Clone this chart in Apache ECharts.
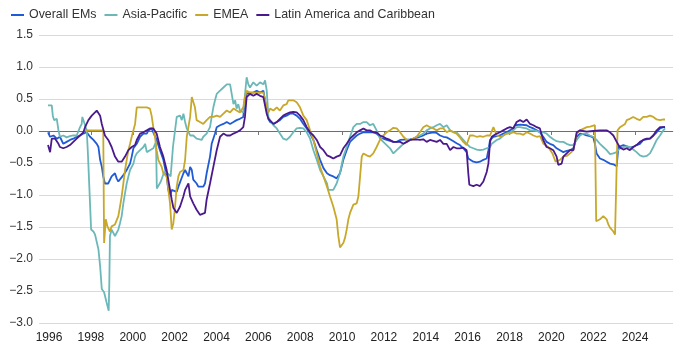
<!DOCTYPE html>
<html>
<head>
<meta charset="utf-8">
<script src="https://cdn.jsdelivr.net/npm/echarts@6/dist/echarts.min.js"></script>
<style>
html,body{margin:0;padding:0;background:#fff;}
#chart{width:700px;height:360px;}
</style>
</head>
<body>
<div id="chart"></div>
<script>
var seriesNames = ['Overall EMs', 'Asia-Pacific', 'EMEA', 'Latin America and Caribbean'];
var xTickYears = [1996,1998,2000,2002,2004,2006,2008,2010,2012,2014,2016,2018,2020,2022,2024];
var yTickValues = [-3,-2.5,-2,-1.5,-1,-0.5,0,0.5,1,1.5];

var overallDates = [1995.95,1996.05,1996.21,1996.37,1996.52,1996.68,1996.84,1997.00,1997.16,1997.32,1997.48,1997.64,1997.80,1997.96,1998.12,1998.28,1998.36,1998.44,1998.52,1998.59,1998.67,1998.75,1998.83,1998.99,1999.15,1999.23,1999.31,1999.39,1999.55,1999.71,1999.87,1999.95,2000.03,2000.19,2000.35,2000.51,2000.67,2000.75,2000.90,2000.98,2001.14,2001.30,2001.46,2001.62,2001.70,2001.78,2001.86,2002.10,2002.18,2002.42,2002.50,2002.66,2002.74,2002.82,2002.89,2003.05,2003.13,2003.37,2003.45,2003.53,2003.69,2003.77,2003.93,2004.01,2004.17,2004.33,2004.49,2004.65,2004.81,2004.96,2005.12,2005.28,2005.36,2005.44,2005.60,2005.76,2005.92,2006.08,2006.24,2006.32,2006.40,2006.48,2006.56,2006.72,2006.88,2007.03,2007.19,2007.35,2007.51,2007.67,2007.83,2007.99,2008.15,2008.31,2008.47,2008.63,2008.79,2008.95,2009.11,2009.28,2009.42,2009.58,2009.74,2009.82,2009.90,2010.06,2010.22,2010.38,2010.54,2010.70,2010.86,2011.02,2011.49,2011.65,2011.81,2011.97,2012.13,2012.45,2012.61,2012.77,2013.25,2013.40,2013.56,2013.72,2013.88,2014.04,2014.36,2014.52,2014.68,2014.84,2015.00,2015.16,2015.32,2015.47,2015.63,2015.79,2015.95,2016.03,2016.11,2016.27,2016.43,2016.59,2016.75,2016.91,2016.99,2017.07,2017.15,2017.23,2017.54,2017.70,2017.86,2018.02,2018.18,2018.26,2018.34,2018.50,2018.82,2018.98,2019.14,2019.30,2019.45,2019.61,2019.77,2019.93,2020.09,2020.25,2020.41,2020.57,2020.73,2020.89,2021.05,2021.21,2021.37,2021.53,2021.68,2021.84,2022.00,2022.08,2022.16,2022.32,2022.48,2022.64,2022.80,2022.96,2023.12,2023.20,2023.28,2023.44,2023.60,2023.75,2023.91,2024.07,2024.23,2024.39,2024.55,2024.71,2024.87,2025.03,2025.19,2025.35,2025.43];
var overallValues = [-0.02,-0.09,-0.07,-0.12,-0.09,-0.20,-0.17,-0.14,-0.12,-0.09,-0.07,-0.04,-0.02,-0.09,-0.14,-0.20,-0.25,-0.45,-0.56,-0.71,-0.82,-0.84,-0.82,-0.71,-0.66,-0.74,-0.79,-0.76,-0.69,-0.61,-0.51,-0.40,-0.27,-0.20,-0.09,-0.04,-0.04,0.01,0.04,-0.02,-0.14,-0.30,-0.45,-0.71,-0.92,-1.02,-0.92,-0.95,-0.87,-0.66,-0.61,-0.71,-0.56,-0.61,-0.76,-0.82,-0.87,-0.87,-0.82,-0.66,-0.40,-0.20,-0.04,0.06,0.09,0.11,0.14,0.11,0.14,0.17,0.19,0.22,0.48,0.58,0.60,0.60,0.63,0.60,0.63,0.60,0.32,0.19,0.14,0.11,0.14,0.17,0.22,0.24,0.27,0.27,0.24,0.19,0.11,0.04,-0.04,-0.14,-0.30,-0.45,-0.58,-0.66,-0.69,-0.71,-0.74,-0.71,-0.66,-0.45,-0.30,-0.17,-0.12,-0.07,-0.04,-0.02,-0.02,-0.04,-0.09,-0.12,-0.14,-0.17,-0.17,-0.14,-0.13,-0.12,-0.10,-0.09,-0.07,-0.04,-0.02,-0.03,-0.07,-0.09,-0.10,-0.13,-0.16,-0.19,-0.22,-0.27,-0.33,-0.43,-0.45,-0.48,-0.49,-0.48,-0.45,-0.43,-0.30,-0.14,-0.12,-0.09,-0.07,-0.04,-0.02,0.01,0.04,0.09,0.11,0.10,0.09,0.06,0.04,0.01,-0.02,-0.09,-0.17,-0.20,-0.22,-0.27,-0.30,-0.33,-0.31,-0.30,-0.27,-0.09,-0.04,-0.05,-0.07,-0.08,-0.10,-0.20,-0.35,-0.43,-0.45,-0.48,-0.51,-0.52,-0.55,-0.25,-0.22,-0.22,-0.24,-0.26,-0.25,-0.22,-0.20,-0.14,-0.13,-0.12,-0.07,-0.02,0.04,0.06,0.06];

var asiaDates = [1995.95,1996.13,1996.18,1996.24,1996.29,1996.37,1996.45,1996.52,1996.68,1996.84,1997.00,1997.16,1997.32,1997.40,1997.48,1997.56,1997.59,1997.67,1997.80,1997.85,1997.93,1998.01,1998.12,1998.20,1998.25,1998.36,1998.44,1998.52,1998.63,1998.75,1998.85,1998.88,1998.91,1998.99,1999.07,1999.15,1999.23,1999.31,1999.39,1999.47,1999.55,1999.63,1999.71,1999.79,1999.87,2000.03,2000.11,2000.19,2000.35,2000.51,2000.59,2000.67,2000.82,2000.98,2001.11,2001.15,2001.34,2001.50,2001.66,2001.81,2001.92,2002.10,2002.26,2002.34,2002.42,2002.50,2002.58,2002.74,2002.89,2003.05,2003.29,2003.37,2003.45,2003.53,2003.69,2003.77,2003.85,2003.93,2004.01,2004.17,2004.33,2004.49,2004.65,2004.81,2004.89,2004.96,2005.04,2005.12,2005.28,2005.44,2005.52,2005.60,2005.76,2005.92,2006.08,2006.24,2006.32,2006.40,2006.48,2006.56,2006.72,2006.88,2007.03,2007.19,2007.35,2007.51,2007.67,2007.83,2007.99,2008.15,2008.31,2008.47,2008.63,2008.79,2008.95,2009.11,2009.28,2009.34,2009.42,2009.58,2009.74,2009.90,2010.06,2010.22,2010.38,2010.54,2010.70,2010.86,2011.02,2011.17,2011.33,2011.49,2011.65,2011.81,2011.97,2012.13,2012.29,2012.45,2012.61,2012.77,2012.93,2013.09,2013.25,2013.40,2013.56,2013.72,2013.88,2014.04,2014.20,2014.36,2014.52,2014.68,2014.84,2015.00,2015.16,2015.32,2015.47,2015.63,2015.79,2015.95,2016.11,2016.27,2016.43,2016.59,2016.75,2016.91,2017.07,2017.15,2017.23,2017.39,2017.54,2017.70,2017.86,2018.02,2018.18,2018.34,2018.50,2018.66,2018.82,2018.98,2019.14,2019.30,2019.45,2019.61,2019.77,2019.93,2020.09,2020.25,2020.41,2020.57,2020.73,2020.89,2021.05,2021.21,2021.37,2021.53,2021.68,2021.84,2022.00,2022.16,2022.32,2022.48,2022.64,2022.80,2022.96,2023.12,2023.28,2023.44,2023.60,2023.75,2023.91,2024.07,2024.23,2024.39,2024.55,2024.71,2024.87,2025.03,2025.19,2025.35,2025.43];
var asiaValues = [0.40,0.40,0.24,0.17,0.19,0.19,0.01,-0.09,-0.07,-0.10,-0.08,-0.07,-0.07,-0.04,0.06,0.11,0.22,0.14,0.01,-0.30,-0.92,-1.54,-1.57,-1.62,-1.59,-1.85,-2.11,-2.47,-2.52,-2.68,-2.81,-2.37,-1.64,-1.54,-1.57,-1.64,-1.67,-1.54,-1.44,-1.33,-1.13,-0.97,-0.82,-0.71,-0.61,-0.51,-0.40,-0.35,-0.30,-0.25,-0.20,-0.33,-0.30,-0.27,-0.17,-0.90,-0.79,-0.64,-0.66,-0.71,-0.25,0.22,0.24,0.17,0.27,0.14,0.04,-0.07,-0.07,-0.12,-0.14,-0.09,-0.12,-0.04,0.06,0.22,0.37,0.48,0.58,0.63,0.68,0.73,0.73,0.42,0.48,0.35,0.42,0.32,0.29,0.84,0.73,0.68,0.76,0.71,0.76,0.73,0.79,0.63,0.22,0.17,0.09,0.04,-0.04,-0.12,-0.14,-0.09,-0.02,0.04,0.05,0.04,-0.02,-0.12,-0.30,-0.45,-0.61,-0.71,-0.82,-0.92,-0.95,-0.92,-0.82,-0.66,-0.40,-0.25,-0.09,0.06,0.11,0.11,0.14,0.14,0.09,0.11,0.01,-0.12,-0.17,-0.22,-0.27,-0.35,-0.30,-0.25,-0.20,-0.17,-0.14,-0.12,-0.09,-0.07,-0.04,0.01,0.04,0.06,0.09,0.11,0.06,0.09,0.01,-0.02,-0.02,-0.08,-0.14,-0.20,-0.25,-0.27,-0.29,-0.30,-0.29,-0.27,-0.25,-0.20,-0.17,-0.14,-0.12,-0.07,-0.04,-0.02,0.01,0.06,0.06,0.05,0.04,0.01,0.01,0.00,-0.02,-0.02,-0.04,-0.09,-0.13,-0.16,-0.17,-0.17,-0.20,-0.22,-0.22,-0.14,-0.07,-0.04,-0.04,-0.07,-0.09,-0.14,-0.20,-0.25,-0.30,-0.36,-0.35,-0.33,-0.27,-0.25,-0.24,-0.25,-0.29,-0.33,-0.38,-0.40,-0.39,-0.35,-0.25,-0.14,-0.07,0.01,0.04];

var emeaDates = [1997.72,1998.59,1998.63,1998.71,1998.79,1998.91,1998.99,1999.15,1999.23,1999.31,1999.39,1999.47,1999.55,1999.63,1999.71,1999.79,1999.87,1999.95,2000.11,2000.19,2000.51,2000.67,2000.82,2000.90,2000.98,2001.06,2001.14,2001.22,2001.38,2001.46,2001.62,2001.70,2001.78,2001.86,2001.94,2002.02,2002.10,2002.18,2002.26,2002.42,2002.50,2002.58,2002.74,2002.82,2002.89,2002.97,2003.05,2003.21,2003.37,2003.53,2003.69,2003.85,2004.01,2004.17,2004.33,2004.49,2004.65,2004.81,2004.96,2005.12,2005.28,2005.36,2005.44,2005.60,2006.24,2006.40,2006.48,2006.56,2006.72,2006.88,2007.03,2007.19,2007.35,2007.43,2007.51,2007.67,2007.83,2007.99,2008.15,2008.31,2008.47,2008.63,2008.79,2008.95,2009.11,2009.28,2009.42,2009.58,2009.74,2009.82,2009.90,2010.06,2010.14,2010.22,2010.30,2010.38,2010.54,2010.70,2010.78,2010.86,2010.94,2011.02,2011.17,2011.33,2011.49,2011.65,2011.81,2011.97,2012.13,2012.29,2012.45,2012.61,2012.77,2012.93,2013.09,2013.25,2013.40,2013.56,2013.72,2013.88,2014.04,2014.20,2014.36,2014.52,2014.68,2014.84,2015.00,2015.16,2015.32,2015.47,2015.63,2015.79,2015.95,2016.03,2016.11,2016.19,2016.27,2016.43,2016.59,2016.75,2016.91,2017.07,2017.23,2017.31,2017.39,2017.55,2017.70,2017.86,2018.02,2018.18,2018.34,2018.42,2018.50,2018.66,2018.82,2018.98,2019.14,2019.30,2019.46,2019.54,2019.62,2019.85,2020.05,2020.20,2020.41,2020.57,2020.73,2020.89,2021.05,2021.21,2021.37,2021.69,2021.85,2022.08,2022.14,2022.32,2022.48,2022.64,2022.72,2022.80,2022.96,2023.04,2023.12,2023.16,2023.28,2023.36,2023.52,2023.60,2023.75,2023.91,2023.99,2024.07,2024.23,2024.39,2024.47,2024.55,2024.71,2024.87,2025.03,2025.19,2025.35,2025.43];
var emeaValues = [0.01,0.01,-1.75,-1.38,-1.49,-1.57,-1.49,-1.46,-1.44,-1.33,-1.18,-1.02,-0.82,-0.61,-0.45,-0.30,-0.20,-0.09,0.11,0.37,0.37,0.37,0.35,0.24,0.06,-0.09,-0.30,-0.45,-0.56,-0.66,-0.71,-0.92,-1.13,-1.54,-1.44,-1.18,-0.87,-0.71,-0.64,-0.61,-0.45,-0.09,0.22,0.53,0.55,0.37,0.17,0.14,0.11,0.17,0.22,0.22,0.24,0.22,0.27,0.32,0.29,0.35,0.32,0.29,0.37,0.53,0.63,0.60,0.60,0.37,0.29,0.35,0.32,0.37,0.32,0.40,0.42,0.48,0.45,0.48,0.45,0.37,0.24,0.17,0.01,-0.14,-0.35,-0.56,-0.71,-0.87,-1.02,-1.18,-1.38,-1.64,-1.82,-1.75,-1.67,-1.54,-1.38,-1.28,-1.15,-1.13,-1.02,-0.71,-0.40,-0.35,-0.38,-0.40,-0.35,-0.25,-0.14,-0.07,-0.02,0.01,0.05,0.04,-0.02,-0.09,-0.14,-0.14,-0.12,-0.09,-0.02,0.06,0.09,0.06,0.04,0.01,0.04,0.04,-0.02,0.01,-0.02,-0.04,-0.10,-0.17,-0.22,-0.14,-0.07,-0.04,-0.07,-0.09,-0.08,-0.09,-0.07,-0.07,0.06,0.04,-0.07,-0.09,-0.07,-0.04,-0.04,-0.02,-0.04,-0.07,-0.04,-0.06,-0.02,-0.04,-0.07,-0.09,-0.08,-0.14,-0.20,-0.25,-0.35,-0.48,-0.45,-0.40,-0.39,-0.35,-0.30,-0.04,0.01,0.06,0.07,0.09,-1.41,-1.38,-1.33,-1.38,-1.46,-1.51,-1.57,-1.62,-1.64,0.01,0.06,0.09,0.11,0.17,0.19,0.22,0.24,0.19,0.17,0.22,0.24,0.22,0.24,0.22,0.18,0.17,0.18,0.18];

var latamDates = [1995.95,1996.00,1996.05,1996.13,1996.29,1996.45,1996.52,1996.68,1996.84,1997.00,1997.16,1997.32,1997.48,1997.64,1997.72,1997.88,1998.04,1998.28,1998.44,1998.52,1998.67,1998.83,1998.99,1999.15,1999.31,1999.47,1999.63,1999.79,1999.95,2000.11,2000.19,2000.35,2000.51,2000.67,2000.82,2000.98,2001.14,2001.30,2001.46,2001.62,2001.78,2001.86,2001.94,2002.10,2002.26,2002.42,2002.50,2002.66,2002.74,2002.89,2003.05,2003.21,2003.29,2003.45,2003.53,2003.69,2003.85,2004.01,2004.17,2004.33,2004.49,2004.65,2004.81,2004.96,2005.12,2005.28,2005.36,2005.44,2005.60,2005.76,2005.92,2006.08,2006.24,2006.32,2006.40,2006.48,2006.56,2006.72,2006.88,2007.03,2007.19,2007.35,2007.51,2007.67,2007.83,2007.99,2008.15,2008.31,2008.47,2008.63,2008.79,2008.95,2009.11,2009.28,2009.42,2009.58,2009.74,2009.90,2010.06,2010.22,2010.38,2010.54,2010.70,2010.86,2011.02,2011.17,2011.33,2011.49,2011.65,2011.81,2011.97,2012.13,2012.29,2012.45,2012.77,2012.93,2013.09,2013.25,2013.56,2013.72,2013.88,2014.04,2014.20,2014.52,2014.68,2014.84,2015.00,2015.16,2015.32,2015.47,2015.63,2015.79,2015.95,2016.03,2016.08,2016.27,2016.43,2016.59,2016.75,2016.91,2016.99,2017.07,2017.15,2017.23,2017.39,2017.54,2017.70,2017.86,2018.02,2018.18,2018.34,2018.50,2018.66,2018.82,2018.98,2019.14,2019.30,2019.45,2019.61,2019.77,2019.93,2020.09,2020.25,2020.33,2020.41,2020.49,2020.57,2020.73,2020.89,2021.05,2021.21,2021.37,2021.68,2022.00,2022.32,2022.64,2022.80,2022.96,2023.12,2023.28,2023.44,2023.60,2023.75,2023.91,2024.07,2024.23,2024.39,2024.55,2024.71,2024.87,2025.03,2025.19,2025.43];
var latamValues = [-0.22,-0.20,-0.33,-0.12,-0.12,-0.20,-0.25,-0.27,-0.25,-0.22,-0.17,-0.12,-0.07,-0.02,0.06,0.17,0.24,0.32,0.24,0.11,-0.07,-0.14,-0.25,-0.40,-0.48,-0.48,-0.40,-0.30,-0.25,-0.22,-0.14,-0.04,-0.02,0.01,0.04,0.04,-0.04,-0.25,-0.40,-0.61,-0.92,-1.07,-1.20,-1.28,-1.18,-1.02,-0.92,-0.82,-1.02,-1.13,-1.23,-1.31,-1.33,-1.28,-1.07,-0.82,-0.56,-0.30,-0.09,-0.04,-0.07,-0.07,-0.04,-0.02,0.01,0.06,0.22,0.53,0.58,0.55,0.58,0.55,0.53,0.50,0.27,0.19,0.17,0.11,0.14,0.19,0.24,0.27,0.29,0.30,0.29,0.24,0.17,0.06,-0.02,-0.07,-0.14,-0.25,-0.30,-0.38,-0.40,-0.43,-0.40,-0.38,-0.27,-0.20,-0.12,-0.07,-0.02,0.01,0.04,0.01,0.01,-0.02,-0.02,-0.07,-0.09,-0.12,-0.14,-0.17,-0.17,-0.20,-0.17,-0.14,-0.13,-0.14,-0.13,-0.17,-0.14,-0.17,-0.14,-0.20,-0.20,-0.30,-0.25,-0.27,-0.27,-0.26,-0.30,-0.66,-0.84,-0.86,-0.84,-0.86,-0.79,-0.64,-0.51,-0.17,-0.09,-0.07,-0.04,-0.02,0.01,0.04,0.06,0.04,0.14,0.17,0.14,0.18,0.11,0.09,0.06,0.04,-0.14,-0.25,-0.27,-0.30,-0.40,-0.53,-0.56,-0.51,-0.40,-0.35,-0.30,-0.30,-0.02,0.01,-0.01,0.00,0.01,0.01,-0.02,-0.07,-0.17,-0.26,-0.29,-0.27,-0.30,-0.25,-0.22,-0.17,-0.14,-0.12,-0.12,-0.07,0.01,0.06,0.06];

var colors = ['#1f5bd6', '#6cb8b8', '#c8a82a', '#4a1a8c'];

function pairs(d, v) { return d.map(function (x, i) { return [x, v[i]]; }); }
var allData = [pairs(overallDates, overallValues), pairs(asiaDates, asiaValues), pairs(emeaDates, emeaValues), pairs(latamDates, latamValues)];

var chart = echarts.init(document.getElementById('chart'), null, {renderer: 'canvas'});
var font = 'Liberation Sans, Arial, sans-serif';

var series = seriesNames.map(function (name, i) {
  var s = {
    name: name, type: 'line', data: allData[i], showSymbol: false, symbol: 'none',
    lineStyle: {width: 1.8, color: colors[i]}, itemStyle: {color: colors[i]},
    z: 10 + i, animation: false
  };
  if (i === 0) {
    s.markLine = {silent: true, symbol: 'none', label: {show: false},
      lineStyle: {color: '#6e6e6e', width: 1, type: 'solid'},
      data: [{yAxis: 0}], z: 1};
  }
  return s;
});

chart.setOption({
  animation: false,
  color: colors,
  textStyle: {fontFamily: font},
  legend: {
    left: 6, top: 4, itemWidth: 13, itemHeight: 2, itemGap: 8, icon: 'rect',
    textStyle: {fontSize: 12.4, color: '#333', fontFamily: font},
    data: seriesNames
  },
  grid: {left: 39, right: 27, top: 35, bottom: 37, containLabel: false},
  xAxis: {
    type: 'value', min: 1995.52, max: 2025.81,
    axisLine: {show: true, lineStyle: {color: '#cfcfcf', width: 1}},
    axisTick: {show: true, length: 4, lineStyle: {color: '#777'}, customValues: xTickYears},
    axisLabel: {fontSize: 12, color: '#222', margin: 9, customValues: xTickYears,
      formatter: function (v) { return String(Math.round(v)); }},
    splitLine: {show: false}
  },
  yAxis: {
    type: 'value', min: -3, max: 1.5, interval: 0.5,
    axisLine: {show: false}, axisTick: {show: false},
    axisLabel: {fontSize: 12, color: '#333', margin: 6,
      formatter: function (v) { return v.toFixed(1).replace('-', '\u2212'); }},
    splitLine: {lineStyle: {color: '#dadada', width: 1}}
  },
  series: series
});
</script>
</body>
</html>
